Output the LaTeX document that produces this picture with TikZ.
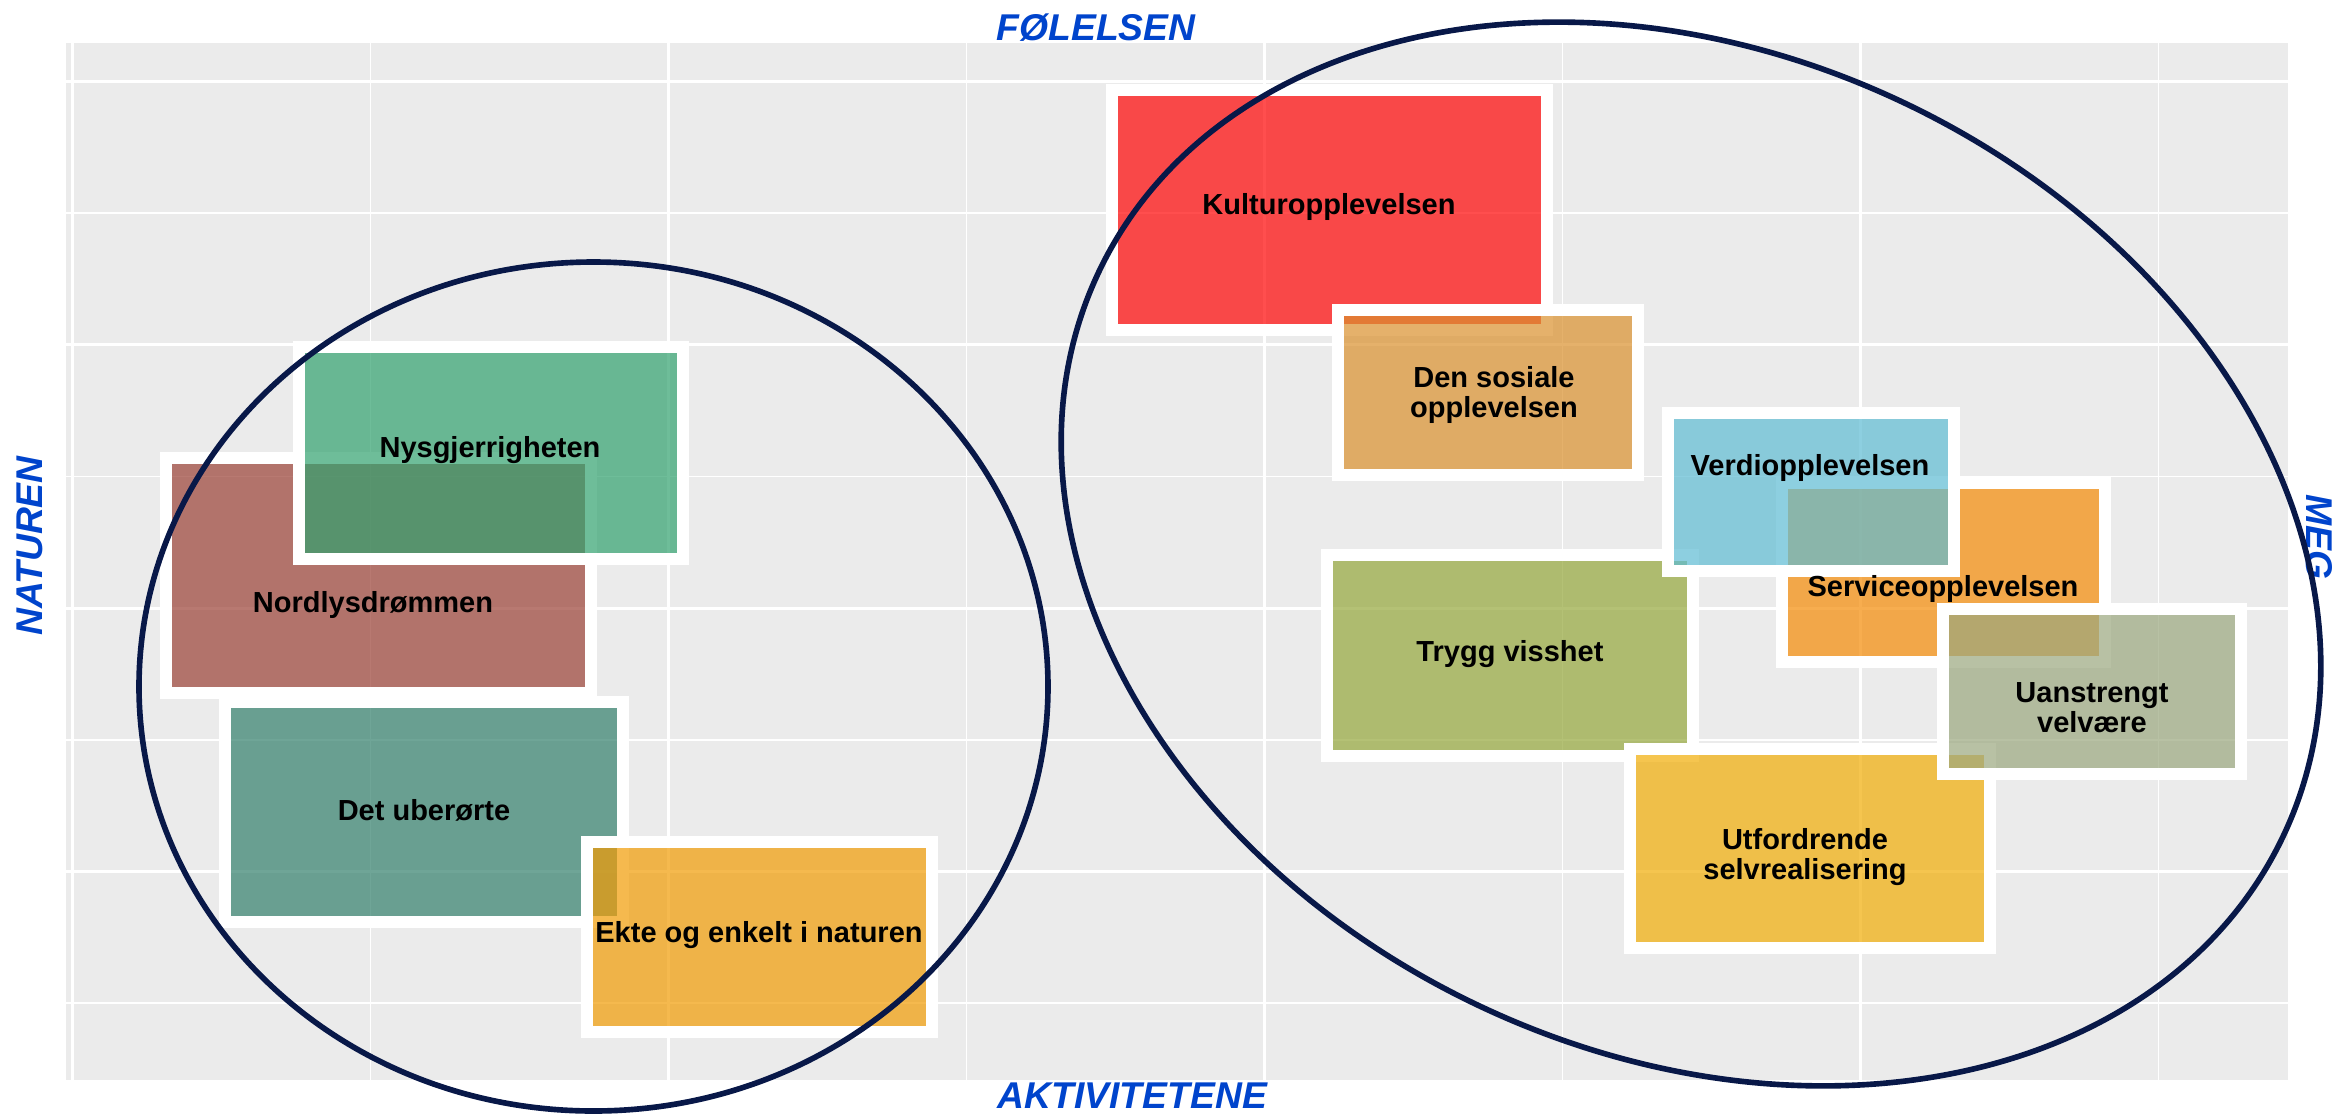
\documentclass[tikz,border=0pt]{standalone}
\usepackage{fontspec}
\setmainfont{Liberation Sans}
\usetikzlibrary{fit}
\definecolor{panel}{RGB}{235,235,235}
\definecolor{axisblue}{RGB}{0,68,204}
\definecolor{navy}{RGB}{8,24,72}
\definecolor{cKultur}{RGB}{255,3,3}
\definecolor{cSos}{RGB}{218,144,45}
\definecolor{cVerdi}{RGB}{94,188,212}
\definecolor{cService}{RGB}{245,139,5}
\definecolor{cTrygg}{RGB}{149,168,59}
\definecolor{cUan}{RGB}{155,168,126}
\definecolor{cUtf}{RGB}{242,173,5}
\definecolor{cNys}{RGB}{49,162,111}
\definecolor{cNord}{RGB}{155,65,54}
\definecolor{cDet}{RGB}{51,128,108}
\definecolor{cEkte}{RGB}{242,156,4}
\begin{document}
\begin{tikzpicture}[x=0.01cm,y=-0.01cm,
  box/.style={rectangle, draw=white, line width=0.12cm, fill opacity=0.7, inner sep=0.06cm, outer sep=0pt},
  lbl/.style={font=\fontsize{8.25}{8.54}\selectfont\bfseries, align=center, inner sep=0pt, text=black},
  lblone/.style={font=\fontsize{8.25}{8.54}\selectfont\bfseries, inner sep=0pt, text height=5.9pt, text depth=0pt, text=black},
  axislbl/.style={font=\fontsize{10.6}{12}\selectfont\bfseries\itshape, text=axisblue, inner sep=0pt},
  gmajor/.style={white, line width=0.03cm},
  gminor/.style={white, line width=0.016cm},
  ring/.style={draw=navy, line width=1.6pt}]
\useasboundingbox (0,0) rectangle (2338,1114);
\fill[white] (0,0) rectangle (2338,1114);
% panel and grid
\fill[panel] (66,43) rectangle (2288,1080);
\foreach \x in {370.5,966.5,1562.5,2158.5} \draw[gminor] (\x,43) -- (\x,1080);
\foreach \y in {213,476.5,739.7,1003} \draw[gminor] (66,\y) -- (2288,\y);
\foreach \x in {72.5,668.5,1264.5,1860.5} \draw[gmajor] (\x,43) -- (\x,1080);
\foreach \y in {81.5,344.8,608,871.4} \draw[gmajor] (66,\y) -- (2288,\y);
% boxes
\node[box, fill=cNord, fit={(172,464) (585,687)}] (nord) {};
\node[box, fill=cNys, fit={(305,353) (677,553)}] (nys) {};
\node[box, fill=cDet, fit={(231,708) (617,916)}] (det) {};
\node[box, fill=cEkte, fit={(593,848) (926,1026)}] (ekte) {};
\node[box, fill=cKultur, fit={(1118,96) (1541,324)}] (kultur) {};
\node[box, fill=cSos, fit={(1344,316) (1632,469)}] (sos) {};
\node[box, fill=cTrygg, fit={(1333,561) (1687,750)}] (trygg) {};
\node[box, fill=cService, fit={(1788,489) (2099,656)}] (service) {};
\node[box, fill=cVerdi, fit={(1674,419) (1948,565)}] (verdi) {};
\node[box, fill=cUtf, fit={(1636,755) (1984,942)}] (utf) {};
\node[box, fill=cUan, fit={(1949,615) (2235,768)}] (uan) {};
% labels
\node[lblone] (nordL) at (373,602) {Nordlysdrømmen};
\node[lblone] (nysL) at (490,447) {Nysgjerrigheten};
\node[lblone] (detL) at (424,810) {Det uberørte};
\node[lblone] (ekteL) at (759,932) {Ekte og enkelt i naturen};
\node[lblone] (kulturL) at (1329,204) {Kulturopplevelsen};
\node[lbl] (sosL) at (1494,394.5) {Den sosiale\\opplevelsen};
\node[lblone] (tryggL) at (1510,651) {Trygg visshet};
\node[lblone] (serviceL) at (1943,586) {Serviceopplevelsen};
\node[lblone] (verdiL) at (1810,465.5) {Verdiopplevelsen};
\node[lbl] (utfL) at (1805,857) {Utfordrende\\selvrealisering};
\node[lbl] (uanL) at (2092,707.5) {Uanstrengt\\velvære};
% axis labels
\node[axislbl, anchor=base west] (fol) at (996,40) {FØLELSEN};
\node[axislbl, anchor=base west] (akt) at (997,1108) {AKTIVITETENE};
\node[axislbl, rotate=90, anchor=base] (nat) at (42,546) {NATUREN};
\node[axislbl, rotate=-90, anchor=base] (meg) at (2306,537) {MEG};
% ellipses
\draw[ring] (593.5,686.5) ellipse [x radius=454.5, y radius=424.5];
\draw[ring, rotate around={-25.6:(1691,554)}] (1691,554) ellipse [x radius=656, y radius=499];
\end{tikzpicture}
\end{document}
